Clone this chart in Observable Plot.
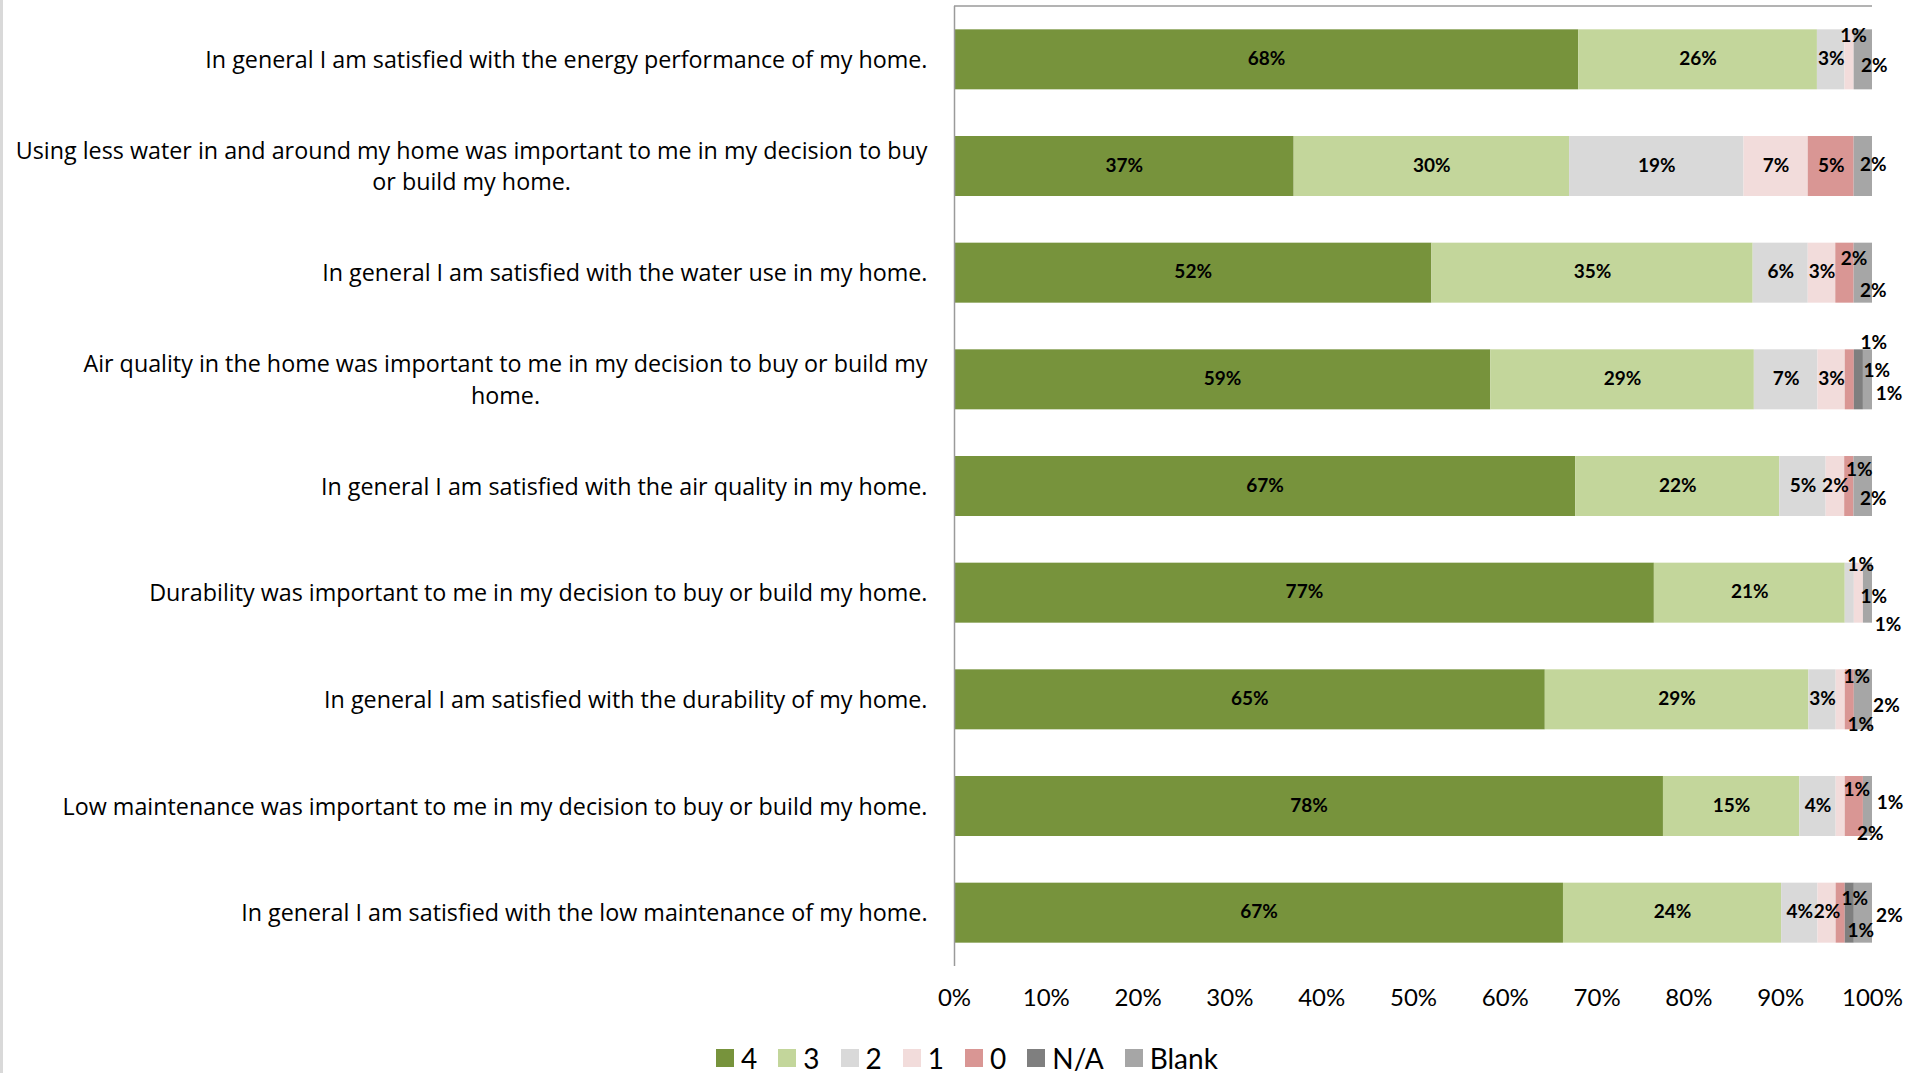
<!DOCTYPE html>
<html><head><meta charset="utf-8">
<script src="https://cdn.jsdelivr.net/npm/d3@7"></script>
<script src="https://cdn.jsdelivr.net/npm/@observablehq/plot@0.6"></script>
<style>
body{margin:0;background:#fff;font-family:Lato,sans-serif;width:1905px;height:1073px;overflow:hidden;position:relative}
#chart{position:absolute;left:0;top:0}
#strip{position:absolute;left:0;top:0;width:3px;height:1073px;background:#d9d9d9}
#legend{position:absolute;left:716px;top:1044px;height:28px;display:flex;align-items:center;font-size:28px;color:#000;line-height:28px}
.item{display:flex;align-items:center;margin-right:21px}
.sw{width:18px;height:18px;margin-right:7px}
</style></head><body>
<div id="chart"></div><div id="legend"></div><div id="strip"></div>
<script>
const categories = [
  "In general I am satisfied with the energy performance of my home.",
  "Using less water in and around my home was important to me in my decision to buy\nor build my home.",
  "In general I am satisfied with the water use in my home.",
  "Air quality in the home was important to me in my decision to buy or build my\nhome.",
  "In general I am satisfied with the air quality in my home.",
  "Durability was important to me in my decision to buy or build my home.",
  "In general I am satisfied with the durability of my home.",
  "Low maintenance was important to me in my decision to buy or build my home.",
  "In general I am satisfied with the low maintenance of my home."
];
const seriesNames = ["4", "3", "2", "1", "0", "N/A", "Blank"];
const seriesColors = ["#77933c", "#c3d69b", "#d9d9d9", "#f2dcdb", "#d99694", "#7f7f7f", "#a6a6a6"];
const s4     = [68, 37, 52, 59, 67, 77, 65, 78, 67];
const s3     = [26, 30, 35, 29, 22, 21, 29, 15, 24];
const s2     = [3, 19, 6, 7, 5, 1, 3, 4, 4];
const s1     = [1, 7, 3, 3, 2, 1, 1, 1, 2];
const s0     = [0, 5, 2, 1, 1, 0, 1, 2, 1];
const sNA    = [0, 0, 0, 1, 0, 0, 0, 0, 1];
const sBlank = [2, 2, 2, 1, 2, 1, 2, 1, 2];
const xTicks = [0, 0.1, 0.2, 0.3, 0.4, 0.5, 0.6, 0.7, 0.8, 0.9, 1];

// manual label displacement for thin segments (row|series -> [dx, dy])
const labelNudges = {
  "0|1": [4, -24], "0|Blank": [11, 6],
  "1|Blank": [10, -2],
  "2|0": [9, -14], "2|Blank": [10, 18],
  "3|0": [24, -37], "3|N/A": [18, -9], "3|Blank": [21, 14],
  "4|0": [10, -17], "4|Blank": [10, 12],
  "5|2": [11, -28], "5|1": [15, 4], "5|Blank": [20, 32],
  "6|1": [16, -23], "6|0": [11, 25], "6|Blank": [23, 6],
  "7|1": [16, -17], "7|0": [16, 27], "7|Blank": [22, -4],
  "8|0": [14, -14], "8|N/A": [11, 18], "8|Blank": [26, 3]
};

const seriesValues = [s4, s3, s2, s1, s0, sNA, sBlank];
const data = [];
categories.forEach((c, i) => {
  seriesNames.forEach((s, j) => {
    data.push({row: i, category: c, series: s, value: seriesValues[j][i]});
  });
});
const key = d => d.row + "|" + d.series;
const lbl = d => d.value > 0 ? d.value + "%" : null;

const W = 1905, H = 1030, mL = 954, mR = 33, mT = 6, mB = 64;
const textStyle = {fontSize: 19, fontWeight: "bold", fill: "#000"};
const stackOpts = (text, extra = {}) => Plot.stackX({x: "value", y: "category", z: "series", offset: "normalize", text, ...textStyle, ...extra});

const marks = [
  Plot.barX(data, Plot.stackX({x: "value", y: "category", fill: "series", z: "series", offset: "normalize"})),
  Plot.ruleX([0], {stroke: "#9a9a9a", strokeWidth: 1.5}),
  Plot.text(data, stackOpts(d => labelNudges[key(d)] ? null : lbl(d), {dy: -1}))
];
for (const k of Object.keys(labelNudges)) {
  const [dx, dy] = labelNudges[k];
  marks.push(Plot.text(data, stackOpts(d => key(d) === k ? lbl(d) : null, {dx, dy})));
}
marks.push(Plot.axisX({ticks: xTicks, tickFormat: d3.format(".0%"), tickSize: 0, tickPadding: 22, fontSize: 24, label: null, fill: "#000"}));
marks.push(Plot.axisY({tickSize: 0, tickPadding: 27, dy: -2, fontSize: 23.3, lineHeight: 1.36, label: null, fill: "#000", fontFamily: "'Open Sans', sans-serif"}));

const plot = Plot.plot({
  width: W, height: H,
  marginLeft: mL, marginRight: mR, marginTop: mT, marginBottom: mB,
  style: {fontFamily: "Lato, sans-serif", background: "transparent", overflow: "visible"},
  x: {domain: [0, 1], axis: null},
  y: {domain: categories, paddingInner: 0.4375, paddingOuter: 0.21875, round: false, axis: null},
  color: {domain: seriesNames, range: seriesColors},
  marks
});
document.getElementById("chart").appendChild(plot);

// top frame line
const xr = plot.scale("x").range;
d3.select(plot).append("line")
  .attr("x1", xr[0]).attr("x2", xr[1]).attr("y1", mT).attr("y2", mT)
  .attr("stroke", "#9a9a9a").attr("stroke-width", 1.5);

// center wrapped category labels line by line
d3.select(plot).selectAll('g[aria-label="y-axis tick label"] text').each(function() {
  const tspans = this.querySelectorAll("tspan");
  if (tspans.length > 1) {
    let w = 0;
    tspans.forEach(t => { w = Math.max(w, t.getComputedTextLength()); });
    this.setAttribute("text-anchor", "middle");
    tspans.forEach(t => t.setAttribute("x", -w / 2));
  }
});

// legend
const leg = d3.select("#legend");
seriesNames.forEach((s, i) => {
  const it = leg.append("div").attr("class", "item");
  it.append("div").attr("class", "sw").style("background", seriesColors[i]);
  it.append("span").text(s);
});
</script>
</body></html>
